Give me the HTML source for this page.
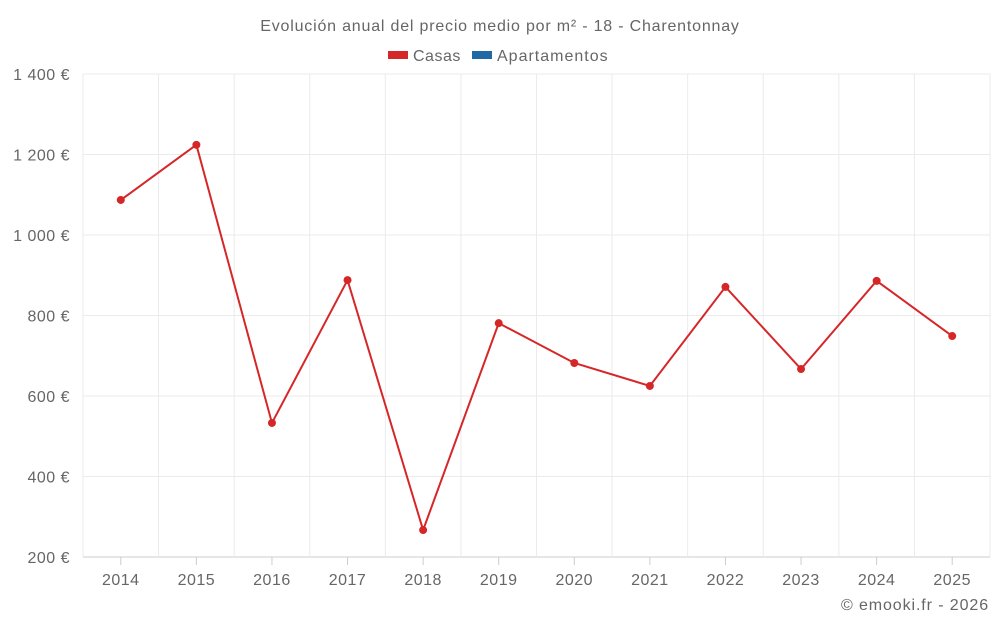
<!DOCTYPE html>
<html><head><meta charset="utf-8">
<style>
body{margin:0;background:#fff;font-family:"Liberation Sans",sans-serif;}
svg text{font-family:"Liberation Sans",sans-serif;fill:#666;letter-spacing:0.5px;}
</style></head>
<body>
<svg id="chart" width="1000" height="625">
<text x="500" y="31" text-anchor="middle" font-size="16" style="letter-spacing:0.8px">Evolución anual del precio medio por m² - 18 - Charentonnay</text>
<g>
<g><rect x="388" y="51" width="20" height="8" fill="#d62728"/><text x="413" y="61" font-size="16">Casas</text></g>
<g><rect x="472" y="51" width="20" height="8" fill="#1f6aa5"/><text x="497" y="61" font-size="16" style="letter-spacing:1px">Apartamentos</text></g>
</g>
<g id="grid"></g><g id="axes"></g><g id="series"></g>
<text x="989" y="610" text-anchor="end" font-size="16" style="letter-spacing:0.9px">© emooki.fr - 2026</text>
</svg>
<script>
const categories=["2014","2015","2016","2017","2018","2019","2020","2021","2022","2023","2024","2025"];
const casasValues=[1087,1224,533,888,267,781,682,625,871,667,886,749];
const yTicks=[200,400,600,800,1000,1200,1400];
const yTickLabels=["200 €","400 €","600 €","800 €","1 000 €","1 200 €","1 400 €"];
const NS="http://www.w3.org/2000/svg";
const L=83,R=990,T=74,B=557,yMin=200,yMax=1400;
const band=(R-L)/categories.length;
const x=i=>L+band*(i+0.5);
const y=v=>B-(v-yMin)/(yMax-yMin)*(B-T);
function mk(tag,attrs,parent){const e=document.createElementNS(NS,tag);for(const k in attrs)e.setAttribute(k,attrs[k]);parent.appendChild(e);return e;}
const grid=document.getElementById('grid'),axes=document.getElementById('axes'),series=document.getElementById('series');
yTicks.forEach((t,i)=>{
 const ln=mk('line',{x1:L,x2:R,y1:y(t),y2:y(t),stroke:i==0?'#ccc':'#ebebeb'},grid);
 
 
 const tx=mk('text',{x:70,y:y(t)+6,'text-anchor':'end','font-size':16},axes);
 tx.textContent=yTickLabels[i];
 
 
});
for(let i=0;i<=categories.length;i++){
 const gx=L+band*i;
 const ln=mk('line',{x1:gx,x2:gx,y1:T,y2:B,stroke:'#ebebeb'},grid);
 
 
}
categories.forEach((c,i)=>{
 const tk=mk('line',{x1:x(i),x2:x(i),y1:B,y2:B+8,stroke:'#ccc'},axes);
 
 
 const tx=mk('text',{x:x(i),y:585,'text-anchor':'middle','font-size':16},axes);
 tx.textContent=c;
 
 
});
const pl=mk('polyline',{points:casasValues.map((v,i)=>x(i)+','+y(v)).join(' '),fill:'none',stroke:'#d62728','stroke-width':2},series);


casasValues.forEach((v,i)=>{
 const c=mk('circle',{cx:x(i),cy:y(v),r:4,fill:'#d62728'},series);
 
 
});
</script>
</body></html>
